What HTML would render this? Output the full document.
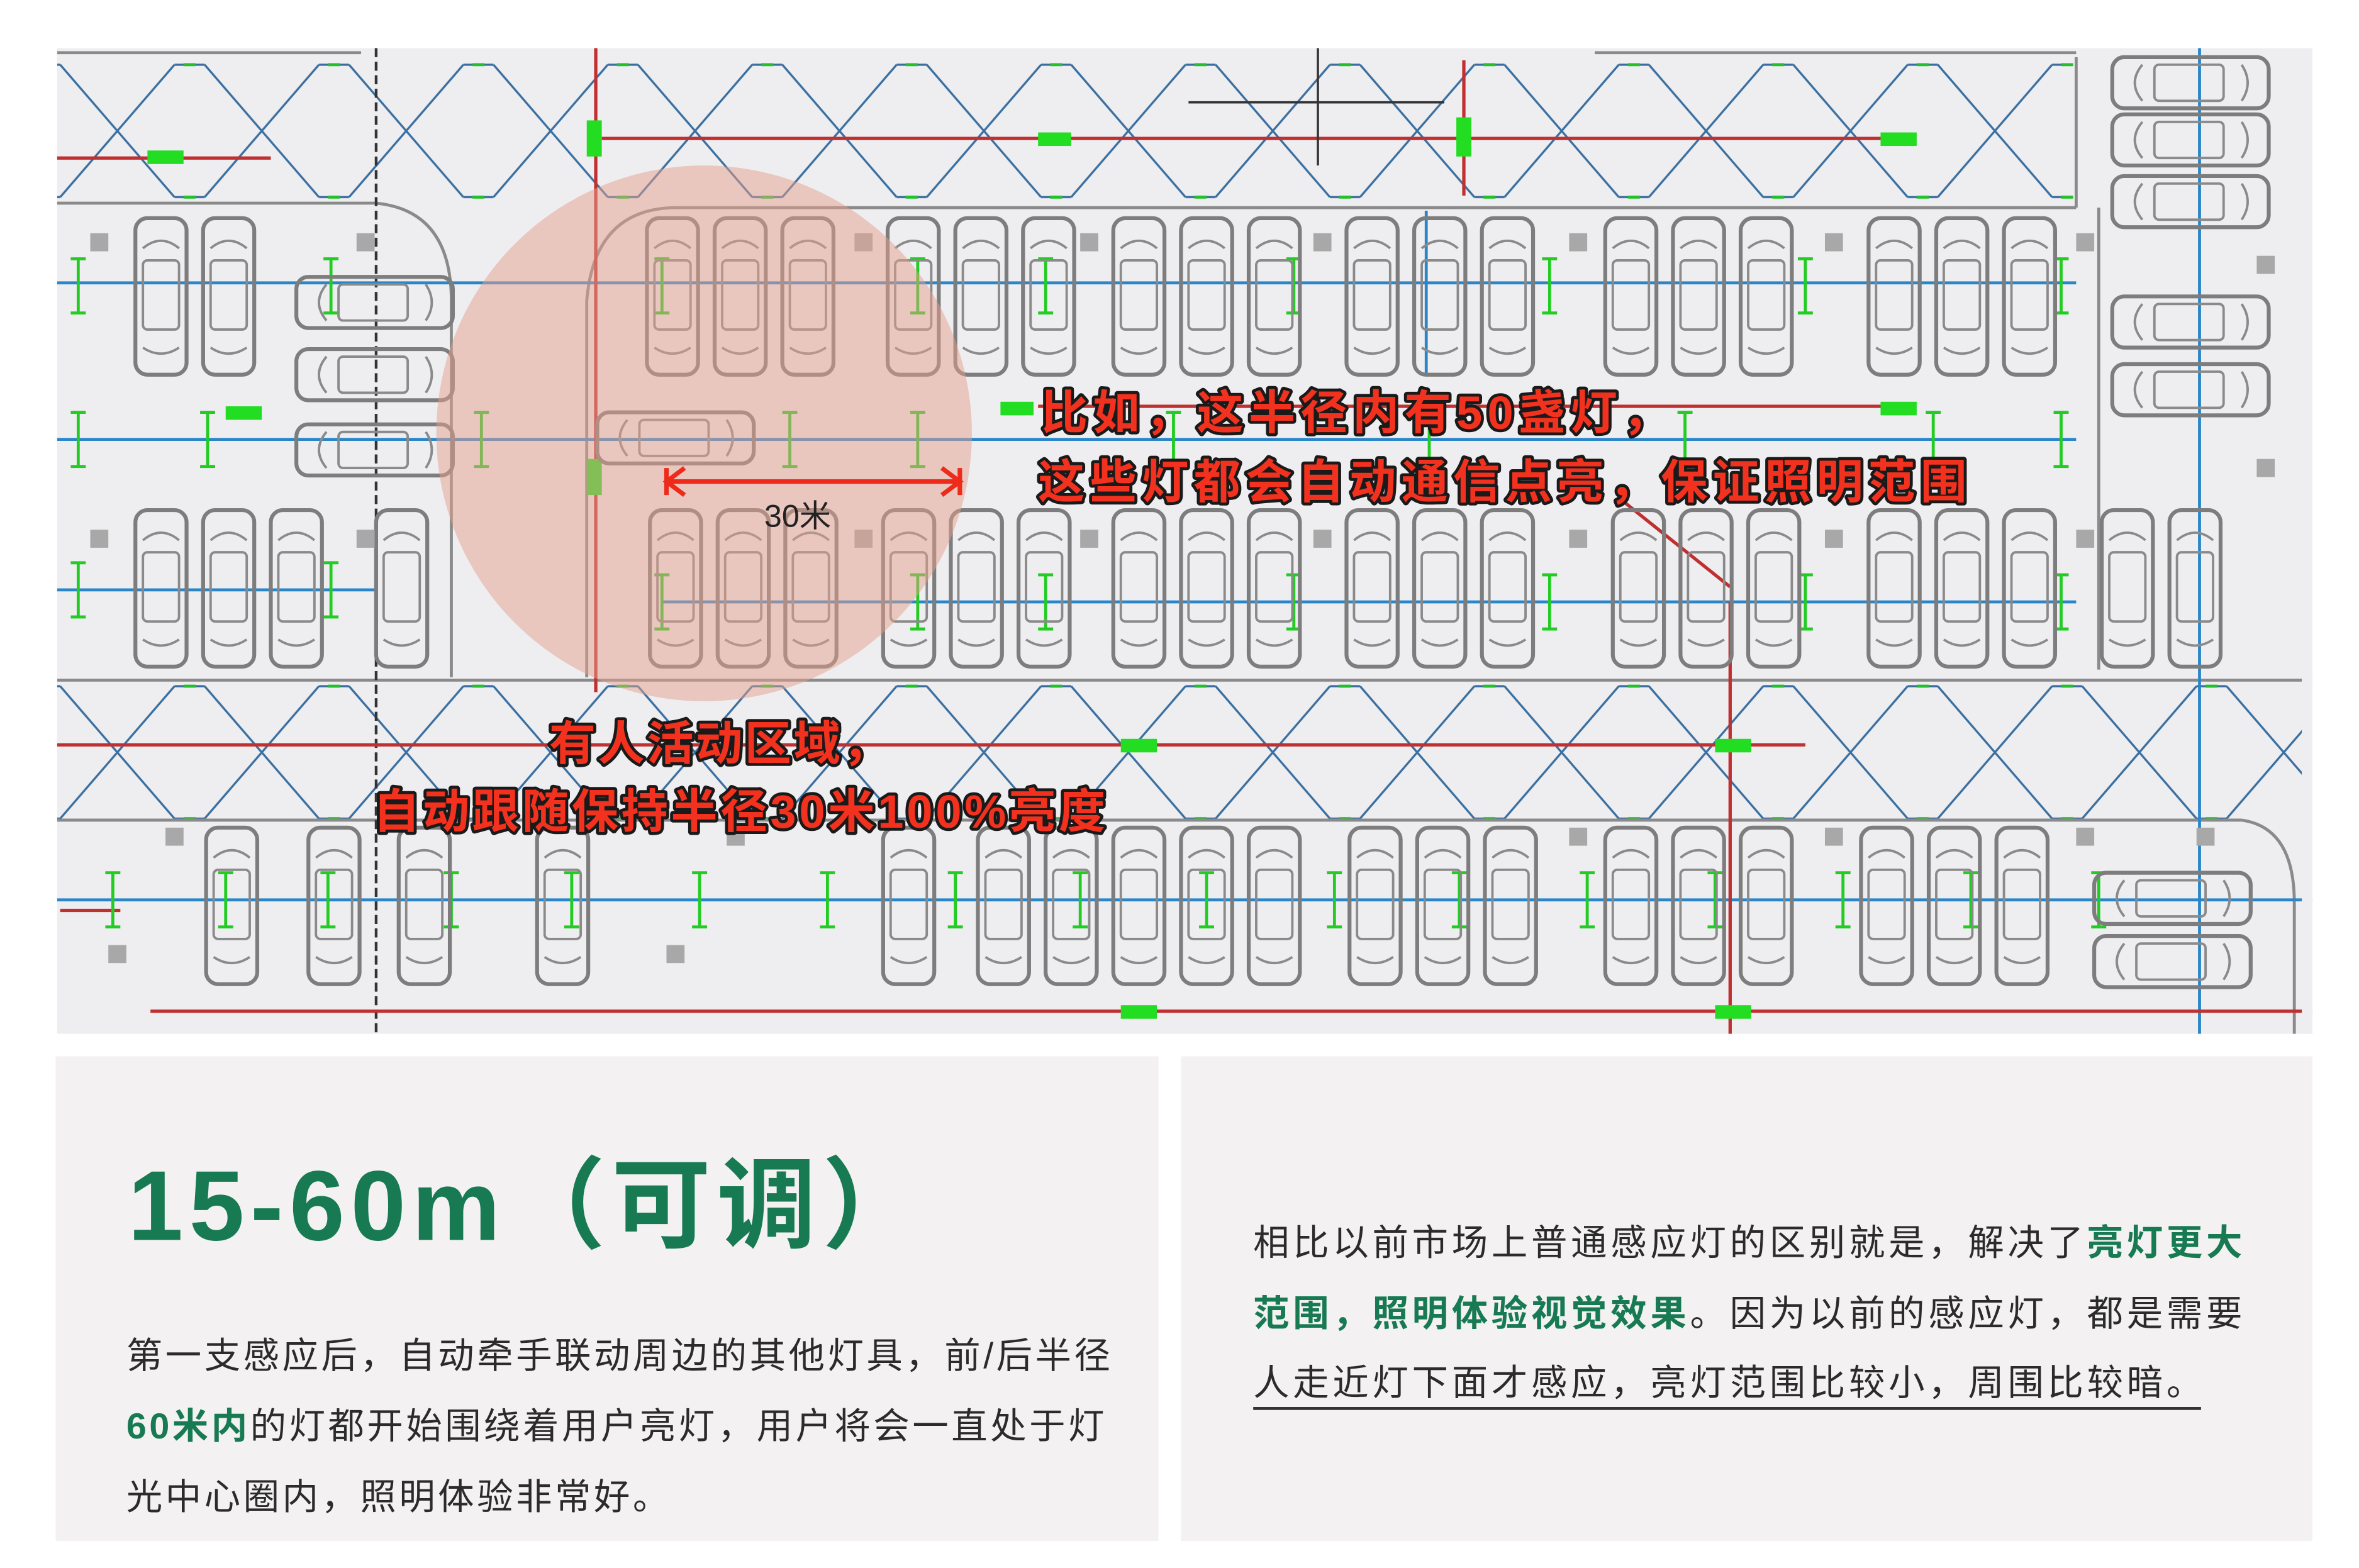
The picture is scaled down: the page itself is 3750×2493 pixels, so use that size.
<!DOCTYPE html>
<html><head><meta charset="utf-8">
<style>
html,body{margin:0;padding:0;background:#fff;}
svg{display:block;}
</style></head>
<body>
<svg width="3750" height="2493" viewBox="0 0 1568 1042" preserveAspectRatio="none" xmlns="http://www.w3.org/2000/svg" xmlns:xlink="http://www.w3.org/1999/xlink">
<defs>
<g id="c">
  <rect x="2" y="2" width="34" height="104" rx="8" fill="none" stroke="#7d7d7d" stroke-width="2.6"/>
  <path d="M7 22 Q19 12 31 22" fill="none" stroke="#8a8a8a" stroke-width="1.6"/>
  <rect x="7" y="30" width="24" height="46" rx="3" fill="none" stroke="#8a8a8a" stroke-width="1.6"/>
  <path d="M7 88 Q19 96 31 88" fill="none" stroke="#8a8a8a" stroke-width="1.6"/>
</g>
<g id="ch">
  <rect x="2" y="2" width="104" height="34" rx="8" fill="none" stroke="#7d7d7d" stroke-width="2.6"/>
  <path d="M22 7 Q12 19 22 31" fill="none" stroke="#8a8a8a" stroke-width="1.6"/>
  <rect x="30" y="7" width="46" height="24" rx="3" fill="none" stroke="#8a8a8a" stroke-width="1.6"/>
  <path d="M88 7 Q96 19 88 31" fill="none" stroke="#8a8a8a" stroke-width="1.6"/>
</g>
<pattern id="hex" x="0" y="42" width="96" height="90" patternUnits="userSpaceOnUse">
  <g stroke="#3a6fa0" stroke-width="1.4" fill="none">
    <line x1="40" y1="1" x2="116" y2="89"/>
    <line x1="40" y1="89" x2="116" y2="1"/>
    <line x1="-56" y1="1" x2="20" y2="89"/>
    <line x1="-56" y1="89" x2="20" y2="1"/>
    <line x1="20" y1="1" x2="40" y2="1"/>
    <line x1="20" y1="89" x2="40" y2="89"/>
  </g>
  <g stroke="#22c02a" stroke-width="2">
    <line x1="26" y1="1" x2="34" y2="1"/>
    <line x1="26" y1="89" x2="34" y2="89"/>
  </g>
</pattern>
<pattern id="hex2" x="0" y="455" width="96" height="90" patternUnits="userSpaceOnUse">
  <g stroke="#3a6fa0" stroke-width="1.4" fill="none">
    <line x1="40" y1="1" x2="116" y2="89"/>
    <line x1="40" y1="89" x2="116" y2="1"/>
    <line x1="-56" y1="1" x2="20" y2="89"/>
    <line x1="-56" y1="89" x2="20" y2="1"/>
    <line x1="20" y1="1" x2="40" y2="1"/>
    <line x1="20" y1="89" x2="40" y2="89"/>
  </g>
  <g stroke="#22c02a" stroke-width="2">
    <line x1="26" y1="1" x2="34" y2="1"/>
    <line x1="26" y1="89" x2="34" y2="89"/>
  </g>
</pattern>
<g id="t"><g stroke="#22cc22" stroke-width="2"><line x1="0" y1="-18" x2="0" y2="18"/><line x1="-5" y1="-18" x2="5" y2="-18"/><line x1="-5" y1="18" x2="5" y2="18"/></g></g>
</defs>

<rect width="1568" height="1042" fill="#fff"/>
<rect x="38" y="32" width="1499" height="655" fill="#eeeef1"/>

<rect x="38" y="42" width="1340" height="90" fill="url(#hex)"/>
<rect x="38" y="455" width="1495" height="90" fill="url(#hex2)"/>

<g stroke="#8a8a8a" stroke-width="2" fill="none">
  <line x1="38" y1="135" x2="250" y2="135"/>
  <path d="M250 135 Q300 140 300 200 L300 450"/>
  <path d="M390 450 L390 200 Q395 138 450 138 L1380 138"/>
  <line x1="38" y1="452" x2="1537" y2="452"/>
  <line x1="38" y1="545" x2="1490" y2="545"/>
  <path d="M1490 545 Q1525 550 1525 600 L1525 687"/>
  <line x1="1380" y1="38" x2="1380" y2="138"/>
  <line x1="1395" y1="138" x2="1395" y2="445"/>
  <line x1="38" y1="35" x2="240" y2="35"/>
  <line x1="1060" y1="35" x2="1380" y2="35"/>
</g>
<line x1="250" y1="32" x2="250" y2="687" stroke="#333" stroke-width="1.8" stroke-dasharray="6,3"/>

<g stroke="#2a86c8" stroke-width="2">
  <line x1="38" y1="188" x2="1380" y2="188"/>
  <line x1="38" y1="292" x2="1380" y2="292"/>
  <line x1="38" y1="392" x2="250" y2="392"/>
  <line x1="440" y1="400" x2="1380" y2="400"/>
  <line x1="38" y1="598" x2="1537" y2="598"/>
  <line x1="1462" y1="32" x2="1462" y2="687"/>
  <line x1="948" y1="140" x2="948" y2="250"/>
</g>
<g stroke="#c03030" stroke-width="2.2" fill="none">
  <line x1="38" y1="105" x2="180" y2="105"/>
  <line x1="400" y1="92" x2="1270" y2="92"/>
  <line x1="690" y1="270" x2="1270" y2="270"/>
  <line x1="38" y1="495" x2="1200" y2="495"/>
  <line x1="100" y1="672" x2="1537" y2="672"/>
  <line x1="396" y1="32" x2="396" y2="460"/>
  <line x1="1150" y1="400" x2="1150" y2="687"/>
  <path d="M1075 330 L1150 390"/>
  <line x1="973" y1="40" x2="973" y2="130"/>
  <line x1="40" y1="605" x2="80" y2="605"/>
</g>
<g fill="#22dd22">
  <rect x="390" y="80" width="10" height="24"/><rect x="690" y="88" width="22" height="9"/>
  <rect x="968" y="78" width="10" height="26"/><rect x="1250" y="88" width="24" height="9"/>
  <rect x="150" y="270" width="24" height="9"/><rect x="665" y="267" width="22" height="9"/>
  <rect x="1250" y="267" width="24" height="9"/><rect x="745" y="491" width="24" height="9"/>
  <rect x="1140" y="491" width="24" height="9"/><rect x="745" y="668" width="24" height="9"/>
  <rect x="1140" y="668" width="24" height="9"/><rect x="390" y="305" width="10" height="24"/>
  <rect x="98" y="100" width="24" height="9"/>
</g>
<g>
  <use xlink:href="#t" x="52" y="190"/><use xlink:href="#t" x="220" y="190"/><use xlink:href="#t" x="440" y="190"/><use xlink:href="#t" x="610" y="190"/><use xlink:href="#t" x="695" y="190"/><use xlink:href="#t" x="860" y="190"/><use xlink:href="#t" x="1030" y="190"/><use xlink:href="#t" x="1200" y="190"/><use xlink:href="#t" x="1370" y="190"/>
  <use xlink:href="#t" x="52" y="292"/><use xlink:href="#t" x="138" y="292"/><use xlink:href="#t" x="320" y="292"/><use xlink:href="#t" x="525" y="292"/><use xlink:href="#t" x="610" y="292"/><use xlink:href="#t" x="780" y="292"/><use xlink:href="#t" x="950" y="292"/><use xlink:href="#t" x="1120" y="292"/><use xlink:href="#t" x="1285" y="292"/><use xlink:href="#t" x="1370" y="292"/>
  <use xlink:href="#t" x="52" y="392"/><use xlink:href="#t" x="220" y="392"/><use xlink:href="#t" x="440" y="400"/><use xlink:href="#t" x="610" y="400"/><use xlink:href="#t" x="695" y="400"/><use xlink:href="#t" x="860" y="400"/><use xlink:href="#t" x="1030" y="400"/><use xlink:href="#t" x="1200" y="400"/><use xlink:href="#t" x="1370" y="400"/>
  <use xlink:href="#t" x="75" y="598"/><use xlink:href="#t" x="150" y="598"/><use xlink:href="#t" x="218" y="598"/><use xlink:href="#t" x="300" y="598"/><use xlink:href="#t" x="380" y="598"/><use xlink:href="#t" x="465" y="598"/><use xlink:href="#t" x="550" y="598"/><use xlink:href="#t" x="635" y="598"/><use xlink:href="#t" x="718" y="598"/><use xlink:href="#t" x="802" y="598"/><use xlink:href="#t" x="887" y="598"/><use xlink:href="#t" x="970" y="598"/><use xlink:href="#t" x="1055" y="598"/><use xlink:href="#t" x="1140" y="598"/><use xlink:href="#t" x="1225" y="598"/><use xlink:href="#t" x="1310" y="598"/><use xlink:href="#t" x="1395" y="598"/>
</g>

<g>
  <use xlink:href="#c" x="88" y="143"/><use xlink:href="#c" x="133" y="143"/>
  <use xlink:href="#c" x="428" y="143"/><use xlink:href="#c" x="473" y="143"/><use xlink:href="#c" x="518" y="143"/>
  <use xlink:href="#c" x="588" y="143"/><use xlink:href="#c" x="633" y="143"/><use xlink:href="#c" x="678" y="143"/>
  <use xlink:href="#c" x="738" y="143"/><use xlink:href="#c" x="783" y="143"/><use xlink:href="#c" x="828" y="143"/>
  <use xlink:href="#c" x="893" y="143"/><use xlink:href="#c" x="938" y="143"/><use xlink:href="#c" x="983" y="143"/>
  <use xlink:href="#c" x="1065" y="143"/><use xlink:href="#c" x="1110" y="143"/><use xlink:href="#c" x="1155" y="143"/>
  <use xlink:href="#c" x="1240" y="143"/><use xlink:href="#c" x="1285" y="143"/><use xlink:href="#c" x="1330" y="143"/>

  <use xlink:href="#c" x="88" y="337"/><use xlink:href="#c" x="133" y="337"/><use xlink:href="#c" x="178" y="337"/>
  <use xlink:href="#c" x="248" y="337"/>
  <use xlink:href="#c" x="430" y="337"/><use xlink:href="#c" x="475" y="337"/><use xlink:href="#c" x="520" y="337"/>
  <use xlink:href="#c" x="585" y="337"/><use xlink:href="#c" x="630" y="337"/><use xlink:href="#c" x="675" y="337"/>
  <use xlink:href="#c" x="738" y="337"/><use xlink:href="#c" x="783" y="337"/><use xlink:href="#c" x="828" y="337"/>
  <use xlink:href="#c" x="893" y="337"/><use xlink:href="#c" x="938" y="337"/><use xlink:href="#c" x="983" y="337"/>
  <use xlink:href="#c" x="1070" y="337"/><use xlink:href="#c" x="1115" y="337"/><use xlink:href="#c" x="1160" y="337"/>
  <use xlink:href="#c" x="1240" y="337"/><use xlink:href="#c" x="1285" y="337"/><use xlink:href="#c" x="1330" y="337"/>
  <use xlink:href="#c" x="1395" y="337"/><use xlink:href="#c" x="1440" y="337"/>

  <use xlink:href="#c" x="135" y="548"/>
  <use xlink:href="#c" x="203" y="548"/><use xlink:href="#c" x="263" y="548"/>
  <use xlink:href="#c" x="355" y="548"/>
  <use xlink:href="#c" x="585" y="548"/>
  <use xlink:href="#c" x="648" y="548"/><use xlink:href="#c" x="693" y="548"/><use xlink:href="#c" x="738" y="548"/><use xlink:href="#c" x="783" y="548"/><use xlink:href="#c" x="828" y="548"/>
  <use xlink:href="#c" x="895" y="548"/><use xlink:href="#c" x="940" y="548"/><use xlink:href="#c" x="985" y="548"/>
  <use xlink:href="#c" x="1065" y="548"/><use xlink:href="#c" x="1110" y="548"/><use xlink:href="#c" x="1155" y="548"/>
  <use xlink:href="#c" x="1235" y="548"/><use xlink:href="#c" x="1280" y="548"/><use xlink:href="#c" x="1325" y="548"/>

  <use xlink:href="#ch" x="195" y="182"/><use xlink:href="#ch" x="195" y="230"/><use xlink:href="#ch" x="195" y="280"/>
  <use xlink:href="#ch" x="395" y="272"/>
  <use xlink:href="#ch" x="1402" y="36"/><use xlink:href="#ch" x="1402" y="74"/><use xlink:href="#ch" x="1402" y="115"/>
  <use xlink:href="#ch" x="1402" y="195"/><use xlink:href="#ch" x="1402" y="240"/>
  <use xlink:href="#ch" x="1390" y="578"/><use xlink:href="#ch" x="1390" y="620"/>
</g>
<g fill="#a8a8a8">
  <rect x="60" y="155" width="12" height="12"/><rect x="237" y="155" width="12" height="12"/>
  <rect x="568" y="155" width="12" height="12"/><rect x="718" y="155" width="12" height="12"/>
  <rect x="873" y="155" width="12" height="12"/><rect x="1043" y="155" width="12" height="12"/>
  <rect x="1213" y="155" width="12" height="12"/><rect x="1380" y="155" width="12" height="12"/>
  <rect x="60" y="352" width="12" height="12"/><rect x="237" y="352" width="12" height="12"/>
  <rect x="568" y="352" width="12" height="12"/><rect x="718" y="352" width="12" height="12"/>
  <rect x="873" y="352" width="12" height="12"/><rect x="1043" y="352" width="12" height="12"/>
  <rect x="1213" y="352" width="12" height="12"/><rect x="1380" y="352" width="12" height="12"/>
  <rect x="110" y="550" width="12" height="12"/><rect x="483" y="550" width="12" height="12"/>
  <rect x="1043" y="550" width="12" height="12"/><rect x="1213" y="550" width="12" height="12"/>
  <rect x="1380" y="550" width="12" height="12"/><rect x="1460" y="550" width="12" height="12"/>
  <rect x="72" y="628" width="12" height="12"/><rect x="443" y="628" width="12" height="12"/>
  <rect x="1500" y="305" width="12" height="12"/><rect x="1500" y="170" width="12" height="12"/>
</g>
<line x1="790" y1="68" x2="960" y2="68" stroke="#333" stroke-width="1.5"/>
<line x1="876" y1="32" x2="876" y2="110" stroke="#333" stroke-width="1.5"/>
<rect x="1530" y="32" width="7" height="655" fill="#eeeef1"/>

<circle cx="468" cy="288" r="178" fill="#e39f8c" fill-opacity="0.5"/>

<g stroke="#ee2a1a" stroke-width="3" fill="none">
  <line x1="443" y1="320" x2="638" y2="320"/>
  <path d="M455 311 L443 320 L455 329"/>
  <path d="M626 311 L638 320 L626 329"/>
  <line x1="443" y1="311" x2="443" y2="329"/><line x1="638" y1="311" x2="638" y2="329"/>
</g>
<text x="508" y="350" font-family="Liberation Sans,'Noto Sans CJK SC',sans-serif" font-size="21" fill="#222">30米</text>

<g font-family="Liberation Sans,'Noto Sans CJK SC',sans-serif" font-weight="bold" font-size="31" fill="#f2321e" stroke="#1a1a1a" stroke-width="4" paint-order="stroke" stroke-linejoin="round">
  <text x="692" y="285" letter-spacing="3.5">比如，这半径内有50盏灯，</text>
  <text x="690" y="331" letter-spacing="3.5">这些灯都会自动通信点亮，保证照明范围</text>
  <text x="365" y="505" letter-spacing="1.5">有人活动区域，</text>
  <text x="248" y="550" letter-spacing="2">自动跟随保持半径30米100%亮度</text>
</g>

<rect x="37" y="702" width="733" height="322" fill="#f3f1f2"/>
<rect x="785" y="702" width="752" height="322" fill="#f3f1f2"/>
<text x="85" y="824" font-family="Liberation Sans,'Noto Sans CJK SC',sans-serif" font-weight="bold" font-size="66" letter-spacing="4" fill="#177a52">15-60m（可调）</text>
<g font-family="Liberation Sans,'Noto Sans CJK SC',sans-serif" font-size="24" fill="#2b2b2b">
  <text x="84" y="909" letter-spacing="1.9">第一支感应后，自动牵手联动周边的其他灯具，前/后半径</text>
  <text x="84" y="956" letter-spacing="1.9"><tspan fill="#177a52" font-weight="bold">60米内</tspan>的灯都开始围绕着用户亮灯，用户将会一直处于灯</text>
  <text x="84" y="1003" letter-spacing="1.9">光中心圈内，照明体验非常好。</text>
  <text x="833" y="834" letter-spacing="2.4">相比以前市场上普通感应灯的区别就是，解决了<tspan fill="#177a52" font-weight="bold">亮灯更大</tspan></text>
  <text x="833" y="881" letter-spacing="2.4"><tspan fill="#177a52" font-weight="bold">范围，照明体验视觉效果</tspan>。因为以前的感应灯，都是需要</text>
  <text x="833" y="927" letter-spacing="2.4">人走近灯下面才感应，亮灯范围比较小，周围比较暗。</text>
</g>
<line x1="833" y1="936" x2="1463" y2="936" stroke="#333" stroke-width="2"/>
</svg>
</body></html>
